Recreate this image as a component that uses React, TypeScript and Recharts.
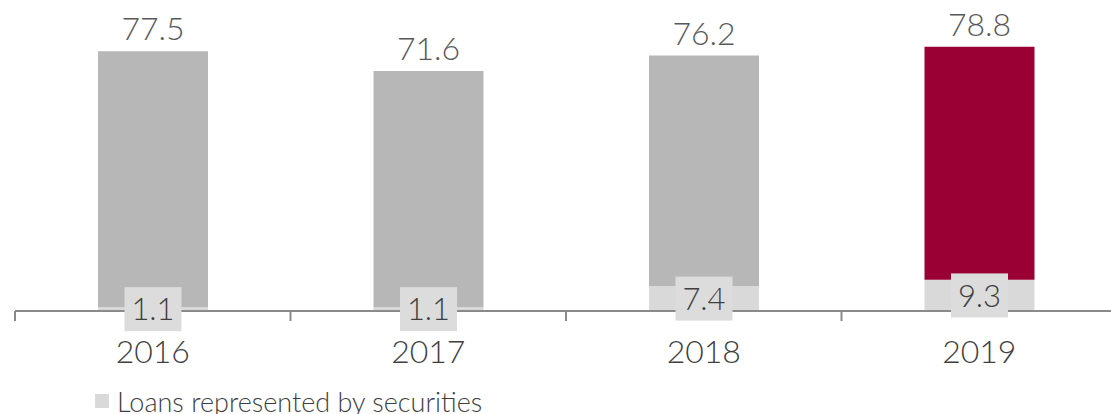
import React from 'react';
import { BarChart, Bar, XAxis, YAxis, Cell, LabelList, Legend } from 'recharts';

const years = ['2016', '2017', '2018', '2019'];
const securities = [1.1, 1.1, 7.4, 9.3];
const totals = [77.5, 71.6, 76.2, 78.8];
const topColors = ['#b7b7b7', '#b7b7b7', '#b7b7b7', '#9b0034'];
const legendLabel = 'Loans represented by securities';

const data = years.map((year, i) => ({
  year,
  securities: securities[i],
  rest: +(totals[i] - securities[i]).toFixed(1),
  total: totals[i],
}));

const FONT = 'Lato, "Open Sans", sans-serif';
const AXIS = '#8a8a8a';

const YearTick = (props: any) => {
  const { x, y, payload, index } = props;
  const half = payload && typeof payload.offset === 'number' ? payload.offset : 0;
  const last = index === years.length - 1;
  return (
    <g>
      <line x1={x - half} x2={x - half} y1={y} y2={y + 10} stroke={AXIS} strokeWidth={2} />
      {last && <line x1={x + half} x2={x + half} y1={y} y2={y + 10} stroke={AXIS} strokeWidth={2} />}
      <text x={x} y={y + 52} textAnchor="middle" fontFamily={FONT} fontWeight={300} fontSize={32} fill="#3f3f3f">
        {payload.value}
      </text>
    </g>
  );
};

const BoxLabel = (props: any) => {
  const vb = props.viewBox && props.viewBox.width !== undefined ? props.viewBox : props;
  const { x, y, width, height } = vb;
  const cx = x + width / 2;
  const cy = y + height / 2;
  const fs = 31;
  return (
    <g>
      <rect x={cx - 28.5} y={cy - 22} width={57} height={44} fill="#dcdcdc" />
      <text x={cx} y={cy + fs * 0.36} textAnchor="middle" fontFamily={FONT} fontWeight={300} fontSize={fs} fill="#3f3f3f">
        {props.value}
      </text>
    </g>
  );
};

const TotalLabel = (props: any) => {
  const vb = props.viewBox && props.viewBox.width !== undefined ? props.viewBox : props;
  const { x, y, width } = vb;
  const value = props.value;
  return (
    <text x={x + width / 2} y={y - 11} textAnchor="middle" fontFamily={FONT} fontWeight={300} fontSize={32} fill="#595959">
      {typeof value === 'number' ? value.toFixed(1) : value}
    </text>
  );
};

const LegendContent = () => (
  <svg width={1111} height={34} style={{ display: 'block' }}>
    <rect x={95} y={14} width={14} height={14} fill="#d9d9d9" />
    <text x={117} y={32} fontFamily={FONT} fontWeight={300} fontSize={27} fill="#3f3f3f">
      {legendLabel}
    </text>
  </svg>
);

export default function App() {
  return (
    <div style={{ position: 'fixed', left: 0, top: 0, width: 1111, height: 414, overflow: 'hidden', background: '#fff' }}>
      <BarChart width={1120} height={414} data={data} margin={{ top: 26, right: 3, bottom: 0, left: 15 }} barSize={110}>
        <XAxis
          dataKey="year"
          tickLine={false}
          tickSize={0}
          tickMargin={0}
          height={69}
          axisLine={{ stroke: AXIS, strokeWidth: 2 }}
          tick={<YearTick />}
          interval={0}
        />
        <YAxis hide domain={[0, 85]} />
        <Legend verticalAlign="bottom" align="left" content={<LegendContent />} wrapperStyle={{ left: 0, bottom: 0, width: 1111, height: 34 }} />
        <Bar dataKey="securities" stackId="a" fill="#d9d9d9" isAnimationActive={false} legendType="square">
          <LabelList dataKey="securities" content={<BoxLabel />} />
        </Bar>
        <Bar dataKey="rest" stackId="a" isAnimationActive={false} legendType="none">
          {data.map((d, i) => (
            <Cell key={d.year} fill={topColors[i]} />
          ))}
          <LabelList dataKey="total" content={<TotalLabel />} />
        </Bar>
      </BarChart>
    </div>
  );
}
